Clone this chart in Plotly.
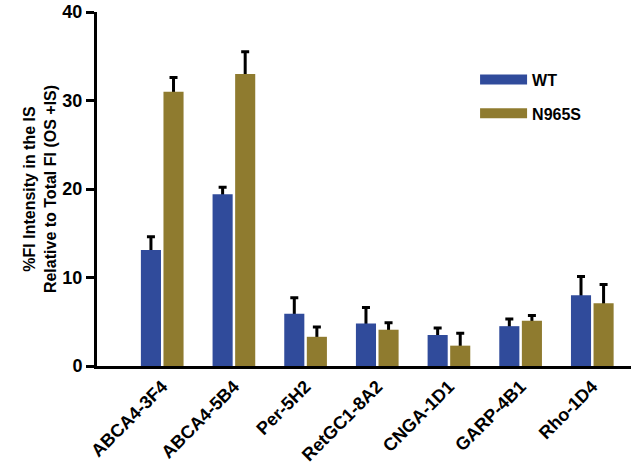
import plotly.graph_objects as go

categories = ["ABCA4-3F4", "ABCA4-5B4", "Per-5H2", "RetGC1-8A2", "CNGA-1D1", "GARP-4B1", "Rho-1D4"]
wt_values = [13.1, 19.4, 5.9, 4.8, 3.5, 4.5, 8.0]
wt_err = [1.5, 0.8, 1.8, 1.8, 0.8, 0.8, 2.1]
n965s_values = [31.0, 33.0, 3.3, 4.1, 2.3, 5.1, 7.1]
n965s_err = [1.6, 2.5, 1.1, 0.8, 1.4, 0.6, 2.1]
y_ticks = [0, 10, 20, 30, 40]

WT_COLOR = "#304b9b"
N_COLOR = "#8f7b2f"
FONT = "Arial, Liberation Sans, sans-serif"

fig = go.Figure()
series = [("WT", wt_values, wt_err, WT_COLOR), ("N965S", n965s_values, n965s_err, N_COLOR)]
# error bars first (transparent bars), then filled bars on top to hide the lower half
for name, vals, errs, col in series:
    fig.add_trace(go.Bar(
        x=categories, y=vals, offsetgroup=name, showlegend=False,
        marker=dict(color="rgba(0,0,0,0)", line=dict(width=0)),
        error_y=dict(type="data", array=errs, symmetric=True, color="black",
                     thickness=3, width=4),
        hoverinfo="skip",
    ))
for name, vals, errs, col in series:
    fig.add_trace(go.Bar(
        x=categories, y=vals, offsetgroup=name, name=name, showlegend=False,
        marker=dict(color=col, line=dict(width=0)),
    ))
# legend entries (wide swatches)
for name, vals, errs, col in series:
    fig.add_trace(go.Scatter(
        x=[None], y=[None], mode="lines", name=name, legendgroup=name,
        line=dict(color=col, width=15), showlegend=True,
    ))

fig.update_layout(
    width=633, height=467,
    barmode="group", bargap=0.37, bargroupgap=0.11,
    plot_bgcolor="white", paper_bgcolor="white",
    margin=dict(l=97, r=2, t=12, b=101),
    font=dict(family=FONT, color="black"),
    showlegend=True,
    legend=dict(x=0.708, y=0.857, xanchor="left", yanchor="top",
                font=dict(size=16, family=FONT, color="black", weight="bold"),
                bgcolor="rgba(0,0,0,0)", traceorder="grouped", tracegroupgap=10,
                itemwidth=47),
)
fig.update_xaxes(
    showline=True, linecolor="black", linewidth=3, ticks="",
    tickangle=-45, tickfont=dict(size=18, family=FONT, weight="bold"),
    range=[-0.91, 6.54], showgrid=False, automargin=False,
)
fig.update_yaxes(
    range=[0, 40], tickvals=y_ticks, showline=True, linecolor="black", linewidth=3,
    ticks="outside", ticklen=8, tickwidth=3, tickcolor="black",
    tickfont=dict(size=18, family=FONT, weight="bold"), showgrid=False, zeroline=False,
    automargin=False, ticklabeloverflow="allow",
    title=dict(text="%FI Intensity in the IS<br>Relative to Total FI (OS +IS)",
               font=dict(size=16, family=FONT, weight="bold"), standoff=2),
)
fig.write_html("out.html", config={"displayModeBar": False},
               post_script="document.body.style.margin='0px';")
